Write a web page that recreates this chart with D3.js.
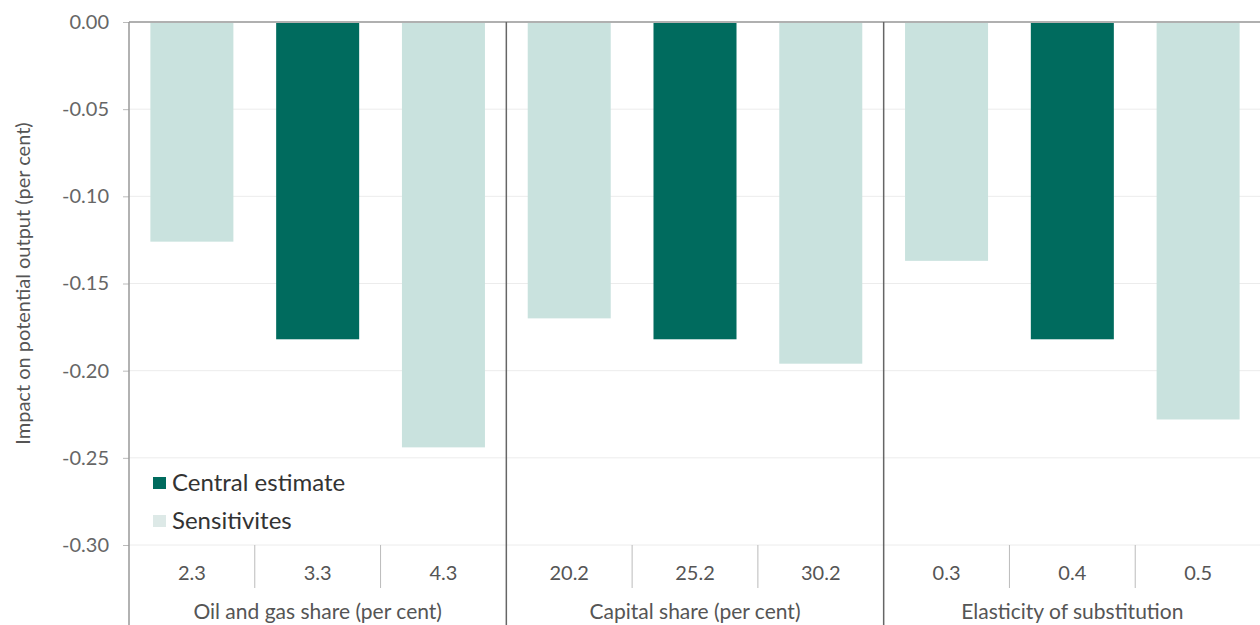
<!DOCTYPE html>
<html><head><meta charset="utf-8">
<script src="https://cdn.jsdelivr.net/npm/d3@7"></script>
<style>body{margin:0;background:#fff;} text{font-family:"Lato","Noto Sans",sans-serif;}</style>
</head><body><svg id="c" width="1260" height="625"></svg>
<script>
const groups = ["Oil and gas share (per cent)", "Capital share (per cent)", "Elasticity of substitution"];
const categories = ["2.3","3.3","4.3","20.2","25.2","30.2","0.3","0.4","0.5"];
const values = [-0.126,-0.182,-0.244,-0.170,-0.182,-0.196,-0.137,-0.182,-0.228];
const isCentral = [false,true,false,false,true,false,false,true,false];
const yTicks = [0,-0.05,-0.10,-0.15,-0.20,-0.25,-0.30];
const legendLabels = ["Central estimate","Sensitivites"];
const colors = {central:"#006b5e", sens:"#c9e2de"};

const svg = d3.select("#c");
const L=129, R=1261, T=22, B=545;
const ids = categories.map((c,i)=>i);
const x = d3.scaleBand().domain(ids).range([L,R]).paddingInner(0.34).paddingOuter(0.17);
const xb = d3.scaleBand().domain(ids).range([L,R]);
const y = d3.scaleLinear().domain([0,-0.30]).range([T,B]);

// gridlines
svg.append("g").selectAll("line").data(yTicks.slice(1)).join("line")
  .attr("x1",L).attr("x2",R).attr("y1",d=>y(d)).attr("y2",d=>y(d))
  .attr("stroke","#ececec").attr("stroke-width",1);

// bars
svg.append("g").selectAll("rect").data(values).join("rect")
  .attr("x",(d,i)=>x(i)).attr("width",x.bandwidth())
  .attr("y",y(0)).attr("height",d=>y(d)-y(0))
  .attr("fill",(d,i)=>isCentral[i]?colors.central:colors.sens);

// top zero line
svg.append("line").attr("x1",L).attr("x2",R).attr("y1",y(0)).attr("y2",y(0)).attr("stroke","#b0b0b0").attr("stroke-width",2);

// y axis
const yAxis = d3.axisLeft(y).tickValues(yTicks).tickFormat(d=>d3.format(".2f")(d).replace("\u2212","-")).tickSize(6).tickPadding(14);
const ga = svg.append("g").attr("transform",`translate(${L},0)`).call(yAxis);
ga.select(".domain").remove();
ga.selectAll(".tick line").attr("stroke","#bbb");
ga.selectAll(".tick text").attr("fill","#666").style("font-size","20px").attr("font-family","Lato, Noto Sans, sans-serif");
svg.append("line").attr("x1",L).attr("x2",L).attr("y1",T).attr("y2",625).attr("stroke","#999").attr("stroke-width",1.5);

// category ticks
svg.append("g").selectAll("line").data(ids.filter(i=>i%3!==0)).join("line")
  .attr("x1",i=>xb(i)).attr("x2",i=>xb(i)).attr("y1",B).attr("y2",588)
  .attr("stroke","#bbb");
// group separators
svg.append("g").selectAll("line").data([3,6]).join("line")
  .attr("x1",i=>xb(i)).attr("x2",i=>xb(i)).attr("y1",T).attr("y2",625)
  .attr("stroke","#666").attr("stroke-width",1.5);

// category labels
svg.append("g").selectAll("text").data(categories).join("text")
  .attr("x",(d,i)=>xb(i)+xb.bandwidth()/2).attr("y",580)
  .attr("text-anchor","middle").attr("fill","#555").style("font-size","20px").text(d=>d);
// group labels
svg.append("g").selectAll("text").data(groups).join("text")
  .attr("x",(d,g)=>xb(g*3)+xb.bandwidth()*1.5).attr("y",619)
  .attr("text-anchor","middle").attr("fill","#555").style("font-size","21px").text(d=>d);

// y title
svg.append("text").attr("transform",`translate(30,${(T+B)/2}) rotate(-90)`)
  .attr("text-anchor","middle").attr("fill","#555").style("font-size","20px")
  .text("Impact on potential output (per cent)");

// legend
const lg = svg.append("g");
legendLabels.forEach((t,i)=>{
  lg.append("rect").attr("x",153).attr("y",477+i*38).attr("width",13).attr("height",12)
    .attr("fill",i===0?colors.central:"#dde9e7");
  lg.append("text").attr("x",172).attr("y",491+i*38).attr("fill","#333").style("font-size","24px").text(t);
});
</script></body></html>
